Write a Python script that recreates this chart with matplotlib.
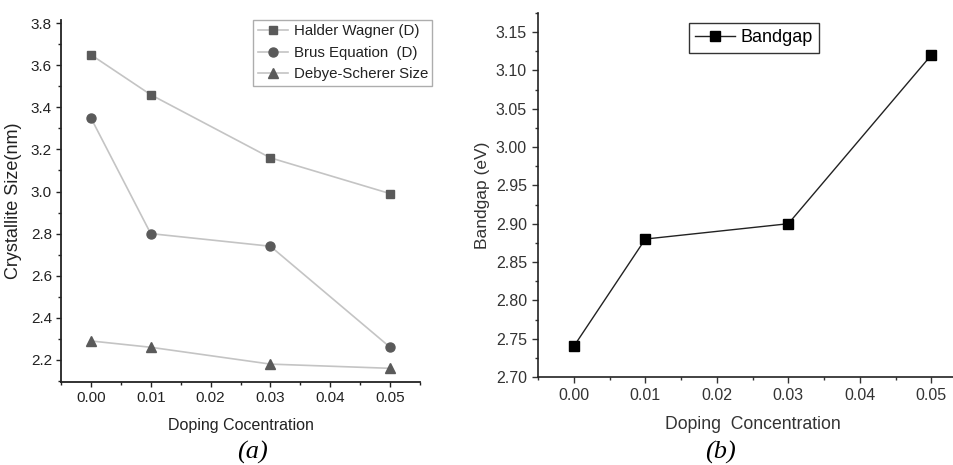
import matplotlib.pyplot as plt
from matplotlib.ticker import MultipleLocator, FormatStrFormatter

plt.rcParams['font.family'] = ['Liberation Sans', 'DejaVu Sans']

# panel (a): crystallite size vs doping
doping = [0.00, 0.01, 0.03, 0.05]
halder_wagner = [3.65, 3.46, 3.16, 2.99]
brus = [3.35, 2.80, 2.74, 2.26]
debye_scherer = [2.29, 2.26, 2.18, 2.16]

# panel (b): bandgap vs doping
bandgap = [2.74, 2.88, 2.90, 3.12]

fig = plt.figure(figsize=(9.54, 4.65), dpi=100)

# ---- (a) ----
ax1 = fig.add_axes([0.0639, 0.1785, 0.3764, 0.7785])
line_c, mark_c = "#c4c4c4", "#5a5a5a"
ax1.plot(doping, halder_wagner, "-s", color=line_c, mfc=mark_c, mec=mark_c, ms=6, lw=1.2, label="Halder Wagner (D)")
ax1.plot(doping, brus, "-o", color=line_c, mfc=mark_c, mec=mark_c, ms=6.5, lw=1.2, label="Brus Equation  (D)")
ax1.plot(doping, debye_scherer, "-^", color=line_c, mfc=mark_c, mec=mark_c, ms=7, lw=1.2, label="Debye-Scherer Size")
ax1.set_xlim(-0.005, 0.055)
ax1.set_ylim(2.095, 3.815)
ax1.xaxis.set_major_locator(MultipleLocator(0.01))
ax1.xaxis.set_minor_locator(MultipleLocator(0.005))
ax1.yaxis.set_major_locator(MultipleLocator(0.2))
ax1.yaxis.set_minor_locator(MultipleLocator(0.1))
ax1.xaxis.set_major_formatter(FormatStrFormatter("%.2f"))
ax1.yaxis.set_major_formatter(FormatStrFormatter("%.1f"))
ax1.set_xlabel("Doping Cocentration", fontsize=11.5, color="#222222", labelpad=9)
ax1.set_ylabel("Crystallite Size(nm)", fontsize=13, color="#222222", labelpad=6)
ax1.tick_params(which="major", direction="out", length=3.5, width=1, labelsize=11, colors="#222222", pad=3)
ax1.tick_params(which="minor", direction="out", length=2.2, width=1, colors="#222222")
for s in ("top", "right"):
    ax1.spines[s].set_visible(False)
for s in ("left", "bottom"):
    ax1.spines[s].set_linewidth(1.3)
    ax1.spines[s].set_color("#222222")
leg = ax1.legend(loc="upper left", bbox_to_anchor=(0.535, 1.0), fontsize=10.8, frameon=True, fancybox=False,
                 handlelength=2.0, handletextpad=0.4, borderpad=0.3, labelspacing=0.5, borderaxespad=0)
leg.get_frame().set_edgecolor("#999999")
leg.get_frame().set_linewidth(1.0)
for t in leg.get_texts():
    t.set_color("#222222")
fig.text(0.265, 0.026, "(a)", fontsize=19, style="italic", family="Liberation Serif", ha="center", va="center")

# ---- (b) ----
ax2 = fig.add_axes([0.564, 0.1892, 0.4497, 0.783])
ax2.plot(doping, bandgap, "-s", color="#222222", mfc="black", mec="black", ms=7, lw=1.0, label="Bandgap")
ax2.set_xlim(-0.005, 0.055)
ax2.set_ylim(2.70, 3.175)
ax2.xaxis.set_major_locator(MultipleLocator(0.01))
ax2.xaxis.set_minor_locator(MultipleLocator(0.005))
ax2.yaxis.set_major_locator(MultipleLocator(0.05))
ax2.yaxis.set_minor_locator(MultipleLocator(0.025))
ax2.xaxis.set_major_formatter(FormatStrFormatter("%.2f"))
ax2.yaxis.set_major_formatter(FormatStrFormatter("%.2f"))
ax2.set_xlabel("Doping  Concentration", fontsize=12.7, color="#333333", labelpad=9)
ax2.set_ylabel("Bandgap (eV)", fontsize=12.5, color="#333333", labelpad=4)
ax2.tick_params(which="major", direction="out", length=4, width=1, labelsize=11.5, colors="#333333", pad=4)
ax2.tick_params(which="minor", direction="out", length=2.5, width=1, colors="#333333")
for s in ("top", "right"):
    ax2.spines[s].set_visible(False)
for s in ("left", "bottom"):
    ax2.spines[s].set_linewidth(1.2)
    ax2.spines[s].set_color("#222222")
leg2 = ax2.legend(loc="upper left", bbox_to_anchor=(0.352, 0.972), fontsize=13, frameon=True, fancybox=False,
                  handlelength=2.2, handletextpad=0.3, borderpad=0.35, borderaxespad=0)
leg2.get_frame().set_edgecolor("black")
leg2.get_frame().set_linewidth(1.0)
fig.text(0.755, 0.026, "(b)", fontsize=19, style="italic", family="Liberation Serif", ha="center", va="center")

fig.savefig("out.png", dpi=100)
